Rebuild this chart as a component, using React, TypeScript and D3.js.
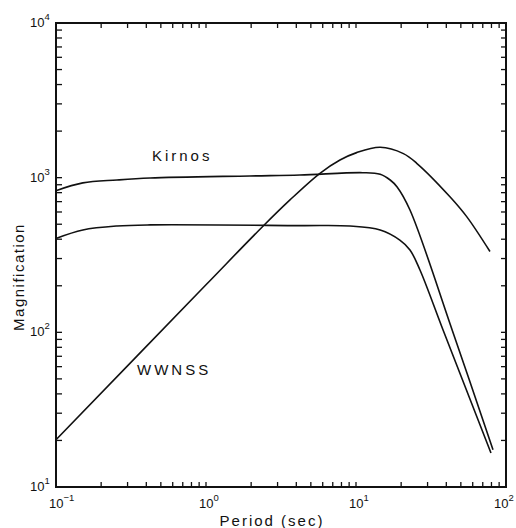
import React, { useEffect, useRef } from 'react';
import * as d3 from 'd3';

// (period in sec, magnification)
const kirnosPeriod = [0.1, 0.151, 0.255, 0.424, 1.96, 4.23, 11.1, 14.5, 16.9, 18.8, 22.9, 43.7, 81.9];
const kirnosMag = [824, 925, 966, 995, 1026, 1040, 1077, 1052, 966, 871, 618, 104, 17.4];

const spPeriod = [0.1, 0.151, 0.255, 0.424, 4.23, 9.12, 14.5, 19.6, 22.9, 26.7, 38, 79.4];
const spMag = [405, 459, 487, 495, 490, 487, 459, 395, 341, 253, 104, 16.6];

const wwnssPeriod = [0.1, 1, 2.37, 3.63, 5.75, 7.82, 10.1, 14.5, 20.7, 25.4, 42.3, 54.7, 78.2];
const wwnssMag = [20.2, 203, 480, 718, 1067, 1300, 1452, 1571, 1430, 1239, 753, 560, 333];

const xDecades = [-1, 0, 1, 2];
const yDecades = [1, 2, 3, 4];

const curveLabels = [
  { text: 'Kirnos', period: 0.436, mag: 1282 },
  { text: 'WWNSS', period: 0.347, mag: 53 },
];

const W = 516;
const H = 528;
const margin = { top: 23, right: 10, bottom: 41, left: 56 };
const font = '"Liberation Sans", Arial, Helvetica, sans-serif';

const minors = (lo: number, hi: number) => {
  const out: number[] = [];
  for (let e = lo; e < hi; e++) {
    for (let k = 1; k < 10; k++) out.push(k * Math.pow(10, e));
  }
  out.push(Math.pow(10, hi));
  return out;
};

const App = () => {
  const ref = useRef<SVGSVGElement>(null);

  useEffect(() => {
    const svg = d3.select(ref.current);
    svg.selectAll('*').remove();

    const width = W - margin.left - margin.right;
    const height = H - margin.top - margin.bottom;

    const x = d3.scaleLog().domain([0.1, 100]).range([margin.left, margin.left + width]);
    const y = d3.scaleLog().domain([10, 10000]).range([margin.top + height, margin.top]);

    const g = svg.append('g');

    // ticks on all four sides, pointing inward
    const xt = minors(-1, 2);
    const yt = minors(1, 4);
    const tl = 5;
    const ticks = g.append('g').attr('stroke', '#111').attr('stroke-width', 1.3);
    xt.forEach(v => {
      ticks.append('line').attr('x1', x(v)).attr('x2', x(v)).attr('y1', y.range()[0]).attr('y2', y.range()[0] - tl);
      ticks.append('line').attr('x1', x(v)).attr('x2', x(v)).attr('y1', y.range()[1]).attr('y2', y.range()[1] + tl);
    });
    yt.forEach(v => {
      ticks.append('line').attr('x1', x.range()[0]).attr('x2', x.range()[0] + tl + 1).attr('y1', y(v)).attr('y2', y(v));
      ticks.append('line').attr('x1', x.range()[1]).attr('x2', x.range()[1] - tl).attr('y1', y(v)).attr('y2', y(v));
    });

    g.append('rect')
      .attr('x', margin.left)
      .attr('y', margin.top)
      .attr('width', width)
      .attr('height', height)
      .attr('fill', 'none')
      .attr('stroke', '#111')
      .attr('stroke-width', 2);

    // decade labels
    xDecades.forEach(e => {
      const t = g.append('text')
        .attr('x', Math.min(x(Math.pow(10, e)) - 7, W - 22))
        .attr('y', 508)
        .attr('font-family', font)
        .attr('font-size', 13)
        .attr('fill', '#111');
      t.append('tspan').text('10');
      t.append('tspan').attr('dy', -7).attr('font-size', 9.5).text(e < 0 ? '\u2212' + Math.abs(e) : String(e));
    });
    yDecades.forEach(e => {
      const t = g.append('text')
        .attr('x', 30)
        .attr('y', y(Math.pow(10, e)) + 4)
        .attr('font-family', font)
        .attr('font-size', 13)
        .attr('fill', '#111');
      t.append('tspan').text('10');
      t.append('tspan').attr('dy', -7).attr('font-size', 9.5).text(String(e));
    });

    g.append('text')
      .attr('x', 272)
      .attr('y', 526)
      .attr('text-anchor', 'middle')
      .attr('font-family', font)
      .attr('font-size', 15)
      .attr('letter-spacing', 2)
      .attr('fill', '#111')
      .text('Period (sec)');

    g.append('text')
      .attr('transform', 'translate(24, 277) rotate(-90)')
      .attr('text-anchor', 'middle')
      .attr('font-family', font)
      .attr('font-size', 15)
      .attr('letter-spacing', 1.5)
      .attr('fill', '#111')
      .text('Magnification');

    const line = d3.line<[number, number]>()
      .x(d => x(d[0]))
      .y(d => y(d[1]))
      .curve(d3.curveCatmullRom.alpha(0.5));

    const series = [
      d3.zip(kirnosPeriod, kirnosMag),
      d3.zip(spPeriod, spMag),
      d3.zip(wwnssPeriod, wwnssMag),
    ] as [number, number][][];

    g.selectAll('path.curve')
      .data(series)
      .enter()
      .append('path')
      .attr('class', 'curve')
      .attr('d', d => line(d))
      .attr('fill', 'none')
      .attr('stroke', '#111')
      .attr('stroke-width', 1.6);

    curveLabels.forEach(l => {
      g.append('text')
        .attr('x', x(l.period))
        .attr('y', y(l.mag))
        .attr('font-family', font)
        .attr('font-size', 15)
        .attr('letter-spacing', 3)
        .attr('fill', '#111')
        .text(l.text);
    });
  }, []);

  return (
    <svg
      ref={ref}
      width={W}
      height={H}
      style={{ position: 'absolute', left: 0, top: 0, background: '#fff' }}
    />
  );
};

export default App;
